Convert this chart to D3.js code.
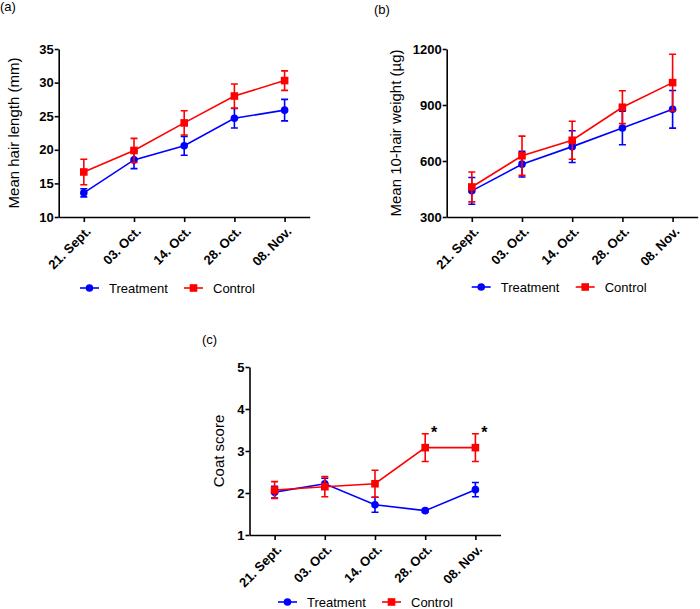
<!DOCTYPE html>
<html>
<head>
<meta charset="utf-8">
<script src="https://cdn.jsdelivr.net/npm/d3@7"></script>
<style>
  body { margin: 0; background: #fff; }
  svg { font-family: Arial, "Liberation Sans", sans-serif; }
  .tick text { font-weight: bold; }
</style>
</head>
<body>
<div id="chart"></div>
<script>
"use strict"
// Sampling dates (shared by all three panels)
var dates = ["21. Sept.", "03. Oct.", "14. Oct.", "28. Oct.", "08. Nov."]
var seriesNames = ["Treatment", "Control"]

// (a) mean hair length (mm), mean and error
var lengthTreatment = [13.6, 18.5, 20.6, 24.7, 25.9]
var lengthTreatmentErr = [0.6, 1.3, 1.4, 1.45, 1.6]
var lengthControl = [16.7, 19.9, 24.0, 28.0, 30.3]
var lengthControlErr = [1.9, 1.8, 1.8, 1.8, 1.45]
var lengthTicks = [10, 15, 20, 25, 30, 35]

// (b) mean 10-hair weight (µg)
var weightTreatment = [440, 583, 677, 777, 877]
var weightTreatmentErr = [72, 69, 85, 90, 101]
var weightControl = [461, 628, 711, 888, 1020]
var weightControlErr = [80, 105, 102, 88, 152]
var weightTicks = [300, 600, 900, 1200]

// (c) coat score
var coatTreatment = [2.02, 2.22, 1.72, 1.58, 2.08]
var coatTreatmentErr = [0.14, 0.13, 0.18, 0.03, 0.17]
var coatControl = [2.07, 2.15, 2.22, 3.08, 3.08]
var coatControlErr = [0.2, 0.24, 0.32, 0.33, 0.33]
var coatTicks = [1, 2, 3, 4, 5]
var coatSignificant = [false, false, false, true, true]

var colors = { Treatment: "#0000ff", Control: "#ff0000" }

var svg = d3.select("#chart").append("svg")
    .attr("width", 700)
    .attr("height", 609)

// Draws one panel; left/top are the plot origin, plot area is 251 x 168
function drawPanel(opt) {
    var width = 251, height = 168
    var g = svg.append("g").attr("transform", "translate(" + opt.left + "," + opt.top + ")")

    var x = d3.scalePoint().domain(dates).range([0, width]).padding(0.5)
    var y = d3.scaleLinear().domain(opt.domain).range([height, 0])

    // panel letter
    svg.append("text")
        .attr("x", opt.labelX).attr("y", opt.labelY)
        .style("font-size", "13px")
        .text(opt.label)

    // axes
    var xAxis = g.append("g")
        .attr("transform", "translate(0," + height + ")")
        .call(d3.axisBottom(x).tickSize(5).tickSizeOuter(0))
    xAxis.selectAll(".tick text")
        .style("font-size", "13px")
        .attr("text-anchor", "end")
        .attr("dy", "0.35em")
        .attr("transform", "translate(4,12) rotate(-45)")
        .attr("y", 0).attr("x", 0)

    var yAxis = g.append("g")
        .call(d3.axisLeft(y).tickValues(opt.ticks).tickFormat(d3.format("d"))
            .tickSize(4).tickSizeOuter(0).tickPadding(1))
    yAxis.selectAll(".tick text").style("font-size", "13px")

    svg.selectAll("path.domain, .tick line")
        .attr("stroke", "#000")
        .attr("stroke-width", 1.6)

    // y axis title
    g.append("text")
        .attr("transform", "translate(" + opt.titleX + "," + height / 2 + ") rotate(-90)")
        .attr("text-anchor", "middle")
        .style("font-size", "15px")
        .text(opt.yTitle)

    // series: error bars, line, markers
    opt.series.forEach(function (s) {
        var c = colors[s.name]
        var pts = s.values.map(function (v, i) { return { d: dates[i], v: v, e: s.err[i] } })
        var sg = g.append("g")

        sg.selectAll(".err").data(pts).enter().append("path")
            .attr("fill", "none")
            .attr("stroke", c)
            .attr("stroke-width", 1.6)
            .attr("d", function (p) {
                var cx = x(p.d), y0 = y(p.v - p.e), y1 = y(p.v + p.e)
                return "M" + (cx - 3.5) + "," + y1 + "H" + (cx + 3.5) +
                    "M" + cx + "," + y1 + "V" + y0 +
                    "M" + (cx - 3.5) + "," + y0 + "H" + (cx + 3.5)
            })

        sg.append("path").datum(pts)
            .attr("fill", "none")
            .attr("stroke", c)
            .attr("stroke-width", 1.6)
            .attr("d", d3.line().x(function (p) { return x(p.d) }).y(function (p) { return y(p.v) }))

        if (s.name == "Treatment") {
            sg.selectAll(".mk").data(pts).enter().append("circle")
                .attr("cx", function (p) { return x(p.d) })
                .attr("cy", function (p) { return y(p.v) })
                .attr("r", 3.8)
                .attr("fill", c)
        } else {
            sg.selectAll(".mk").data(pts).enter().append("rect")
                .attr("x", function (p) { return x(p.d) - 3.8 })
                .attr("y", function (p) { return y(p.v) - 3.8 })
                .attr("width", 7.6).attr("height", 7.6)
                .attr("fill", c)
        }
    })

    // significance stars
    if (opt.stars) {
        var top = opt.series[1]
        g.selectAll(".star").data(dates.filter(function (d, i) { return opt.stars[i] })).enter().append("text")
            .attr("x", function (d) { return x(d) + 9 })
            .attr("y", function (d) {
                var i = dates.indexOf(d)
                return y(top.values[i] + top.err[i]) + 4
            })
            .attr("text-anchor", "middle")
            .style("font-size", "16px")
            .style("font-weight", "bold")
            .text("*")
    }

    // legend
    var lg = g.append("g").attr("transform", "translate(" + opt.legendX + "," + opt.legendY + ")")
    seriesNames.forEach(function (name, i) {
        var off = i * 104
        var c = colors[name]
        lg.append("line")
            .attr("x1", off).attr("x2", off + 19)
            .attr("stroke", c).attr("stroke-width", 1.6)
        if (name == "Treatment") {
            lg.append("circle").attr("cx", off + 9.5).attr("r", 3.8).attr("fill", c)
        } else {
            lg.append("rect").attr("x", off + 5.7).attr("y", -3.8)
                .attr("width", 7.6).attr("height", 7.6).attr("fill", c)
        }
        lg.append("text")
            .attr("x", off + 29).attr("y", 0).attr("dy", "0.35em")
            .style("font-size", "13px")
            .text(name)
    })
}

drawPanel({
    left: 58.7, top: 49, domain: [10, 35], ticks: lengthTicks,
    label: "(a)", labelX: 0, labelY: 11, titleX: -40,
    yTitle: "Mean hair length (mm)",
    series: [
        { name: "Treatment", values: lengthTreatment, err: lengthTreatmentErr },
        { name: "Control", values: lengthControl, err: lengthControlErr }
    ],
    legendX: 21.3, legendY: 239
})

drawPanel({
    left: 446.7, top: 49, domain: [300, 1200], ticks: weightTicks,
    label: "(b)", labelX: 374, labelY: 14, titleX: -46,
    yTitle: "Mean 10-hair weight (µg)",
    series: [
        { name: "Treatment", values: weightTreatment, err: weightTreatmentErr },
        { name: "Control", values: weightControl, err: weightControlErr }
    ],
    legendX: 25, legendY: 238
})

drawPanel({
    left: 249.5, top: 367, domain: [1, 5], ticks: coatTicks,
    label: "(c)", labelX: 202, labelY: 344, titleX: -26,
    yTitle: "Coat score",
    series: [
        { name: "Treatment", values: coatTreatment, err: coatTreatmentErr },
        { name: "Control", values: coatControl, err: coatControlErr }
    ],
    stars: coatSignificant,
    legendX: 28.5, legendY: 235
})
</script>
</body>
</html>
